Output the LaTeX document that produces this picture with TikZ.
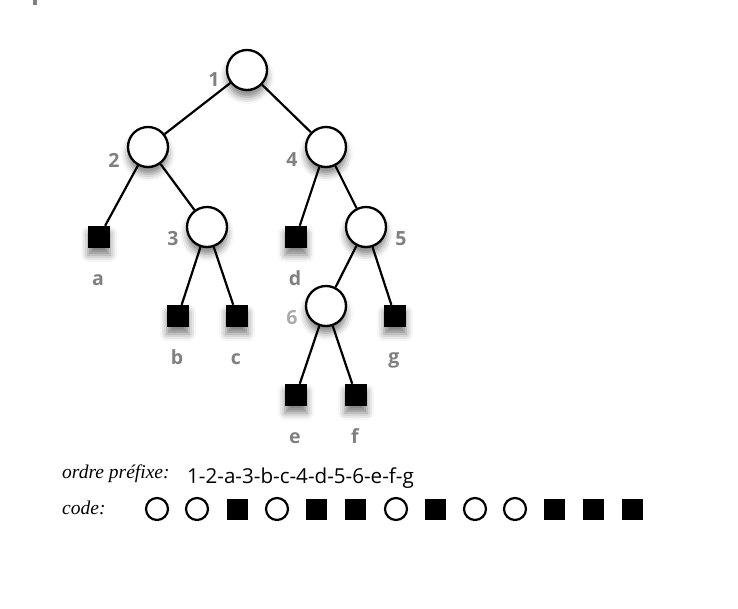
\documentclass[tikz,border=0pt]{standalone}
\usepackage{fontspec}
\setsansfont{Open Sans}
\newfontfamily\itserif{Liberation Serif}
\usetikzlibrary{shadows.blur}
\begin{document}
\begin{tikzpicture}[x=1pt,y=-1pt,
  shad/.style={blur shadow={shadow xshift=0pt,shadow yshift=-7pt,shadow blur radius=7pt,shadow opacity=50}},
  inner/.style={circle,draw,line width=2.3pt,fill=white,minimum size=40pt,inner sep=0pt,shad},
  leaf/.style={rectangle,fill=black,minimum size=22pt,inner sep=0pt,shad},
  lbl/.style={text=black!50,font=\sffamily\bfseries\fontsize{19.5}{19.5}\selectfont,inner sep=0pt},
  lbllight/.style={lbl,text=black!33},
  edge/.style={line width=2.2pt},
  codec/.style={circle,draw,line width=2.2pt,minimum size=22pt,inner sep=0pt},
  codes/.style={rectangle,fill=black,minimum size=21pt,inner sep=0pt},
  ital/.style={font=\itserif\itshape\fontsize{19.5}{19.5}\selectfont,inner sep=0pt,anchor=base west},
  seq/.style={font=\sffamily\fontsize{20.6}{20.6}\selectfont,inner sep=0pt,anchor=base west}]
\useasboundingbox (0,0) rectangle (738,608);
\fill[black!50] (33,0) rectangle (37,5);
% tree nodes
\node[inner] (n1) at (247,70) {};
\node[inner] (n2) at (148,147) {};
\node[inner] (n4) at (326,147) {};
\node[inner] (n3) at (207,227) {};
\node[inner] (n5) at (366,227) {};
\node[inner] (n6) at (326,306) {};
\node[leaf] (a) at (99,237) {};
\node[leaf] (d) at (296,237) {};
\node[leaf] (b) at (178,316) {};
\node[leaf] (c) at (237,316) {};
\node[leaf] (g) at (395,316) {};
\node[leaf] (e) at (296,395) {};
\node[leaf] (f) at (356,395) {};
% edges
\draw[edge] (n1) -- (n2);
\draw[edge] (n1) -- (n4);
\draw[edge] (n2) -- (a);
\draw[edge] (n2) -- (n3);
\draw[edge] (n3) -- (b);
\draw[edge] (n3) -- (c);
\draw[edge] (n4) -- (d);
\draw[edge] (n4) -- (n5);
\draw[edge] (n5) -- (n6);
\draw[edge] (n5) -- (g);
\draw[edge] (n6) -- (e);
\draw[edge] (n6) -- (f);
% labels
\node[lbl] (l1) at (214,80) {1};
\node[lbl] (l2) at (114,160) {2};
\node[lbl] (l4) at (292,160) {4};
\node[lbl] (l3) at (173,239) {3};
\node[lbl] (l5) at (401,239) {5};
\node[lbllight] (l6) at (292,318) {6};
\node[lbl,anchor=base] (la) at (98,285) {a};
\node[lbl,anchor=base] (ld) at (295,285) {d};
\node[lbl,anchor=base] (lb) at (177,364) {b};
\node[lbl,anchor=base] (lc) at (236,364) {c};
\node[lbl,anchor=base] (lg) at (394,363) {g};
\node[lbl,anchor=base] (le) at (295,443) {e};
\node[lbl,anchor=base] (lf) at (355,443) {f};
% bottom text
\node[ital] (t1) at (62,478) {ordre préfixe:};
\node[seq] (t2) at (187,483) {1-2-a-3-b-c-4-d-5-6-e-f-g};
\node[ital] (t3) at (62,514) {code:};
\node[codec] (k1) at (157,509) {};
\node[codec] (k2) at (197,509) {};
\node[codes] (k3) at (237,509) {};
\node[codec] (k4) at (277,509) {};
\node[codes] (k5) at (316,509) {};
\node[codes] (k6) at (355,509) {};
\node[codec] (k7) at (396,509) {};
\node[codes] (k8) at (435,509) {};
\node[codec] (k9) at (475,509) {};
\node[codec] (k10) at (515,509) {};
\node[codes] (k11) at (554,509) {};
\node[codes] (k12) at (593,509) {};
\node[codes] (k13) at (632,509) {};
\end{tikzpicture}
\end{document}
